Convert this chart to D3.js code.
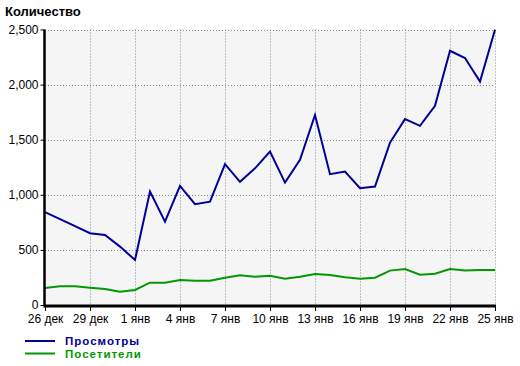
<!DOCTYPE html>
<html>
<head>
<meta charset="utf-8">
<script src="https://cdn.jsdelivr.net/npm/d3@7"></script>
<style>
  body { margin: 0; background: #fff; }
  text { font-family: "Liberation Sans", Arial, sans-serif; }
</style>
</head>
<body>
<div id="chart"></div>
<script>
// Data
var days = ["26 дек","27 дек","28 дек","29 дек","30 дек","31 дек",
  "1 янв","2 янв","3 янв","4 янв","5 янв","6 янв","7 янв","8 янв","9 янв",
  "10 янв","11 янв","12 янв","13 янв","14 янв","15 янв","16 янв","17 янв",
  "18 янв","19 янв","20 янв","21 янв","22 янв","23 янв","24 янв","25 янв"];
var views = [842, 780, 715, 651, 636, 530, 409, 1030, 757, 1081, 915, 938,
  1278, 1118, 1240, 1392, 1111, 1317, 1724, 1187, 1211, 1060, 1075, 1474,
  1687, 1626, 1807, 2307, 2241, 2028, 2498];
var visitors = [154, 170, 170, 157, 145, 121, 136, 203, 203, 227, 221, 221,
  248, 270, 257, 266, 239, 257, 282, 272, 251, 239, 248, 312, 327, 275, 284,
  327, 312, 318, 318];
var yTicks = [0, 500, 1000, 1500, 2000, 2500];
var seriesNames = ["Просмотры", "Посетители"];
var seriesColors = ["#000099", "#009900"];

var svg = d3.select("#chart").append("svg")
    .attr("width", 520)
    .attr("height", 366);

// plot box
var plotLeft = 45, plotRight = 495, plotTop = 29.5, plotBottom = 305;

var xScale = d3.scalePoint()
    .domain(days)
    .range([plotLeft, plotRight]);
var yScale = d3.scaleLinear()
    .domain([0, 2500])
    .range([plotBottom, plotTop]);

// Plot background
svg.append("rect")
    .attr("x", plotLeft)
    .attr("y", plotTop)
    .attr("width", plotRight - plotLeft)
    .attr("height", plotBottom - plotTop)
    .attr("fill", "#f5f5f5");

var labeled = days.filter((d, i) => i % 3 == 0);

// Grid
svg.selectAll(".hgrid")
    .data(yTicks.slice(1))
    .enter().append("line")
    .attr("x1", plotLeft)
    .attr("x2", plotRight)
    .attr("y1", d => Math.round(yScale(d)) + 0.5)
    .attr("y2", d => Math.round(yScale(d)) + 0.5)
    .attr("stroke", "#888")
    .attr("stroke-dasharray", "1,2");

svg.selectAll(".vgrid")
    .data(labeled.slice(1))
    .enter().append("line")
    .attr("x1", d => Math.round(xScale(d)) + 0.5)
    .attr("x2", d => Math.round(xScale(d)) + 0.5)
    .attr("y1", plotTop)
    .attr("y2", plotBottom)
    .attr("stroke", "#888")
    .attr("stroke-dasharray", "1,2");

// Lines
var line = d3.line()
    .x((d, i) => xScale(days[i]))
    .y(d => yScale(d));

[views, visitors].forEach(function(s, k) {
  svg.append("path")
      .datum(s)
      .attr("d", line)
      .attr("fill", "none")
      .attr("stroke", seriesColors[k])
      .attr("stroke-width", 2);
});

// Axes
var yAxis = d3.axisLeft(yScale)
    .tickValues(yTicks)
    .tickFormat(d3.format(","))
    .tickSize(4)
    .tickPadding(2);
var yAxisG = svg.append("g")
    .attr("transform", "translate(" + (plotLeft - 0.5) + ",0)")
    .call(yAxis);
yAxisG.select(".domain").attr("stroke-width", 2.5).attr("d", "M0," + plotTop + "V" + (plotBottom + 1));

var xAxis = d3.axisBottom(xScale)
    .tickValues(labeled)
    .tickSize(5)
    .tickPadding(3);
var xAxisG = svg.append("g")
    .attr("transform", "translate(0," + (plotBottom + 1) + ")")
    .call(xAxis);
xAxisG.select(".domain").attr("stroke-width", 3).attr("d", "M" + (plotLeft - 1.5) + ",0H" + (plotRight + 1));

svg.selectAll(".tick text")
    .attr("font-family", "Liberation Sans, Arial, sans-serif")
    .attr("font-size", 12)
    .attr("fill", "#000");
svg.selectAll(".tick line").attr("stroke", "#000");

// Title
svg.append("text")
    .attr("x", 5)
    .attr("y", 16)
    .attr("font-size", 13)
    .attr("font-weight", "bold")
    .text("Количество");

// Legend
var legend = svg.selectAll(".legend")
    .data(seriesNames)
    .enter().append("g")
    .attr("transform", (d, i) => "translate(25," + (341 + i * 12.5) + ")");
legend.append("line")
    .attr("x1", 0)
    .attr("x2", 30)
    .attr("stroke", (d, i) => seriesColors[i])
    .attr("stroke-width", 2);
legend.append("text")
    .attr("x", 40)
    .attr("y", 4)
    .attr("font-size", 11.5)
    .attr("font-weight", "bold")
    .attr("letter-spacing", 1)
    .attr("fill", (d, i) => seriesColors[i])
    .text(d => d);
</script>
</body>
</html>
